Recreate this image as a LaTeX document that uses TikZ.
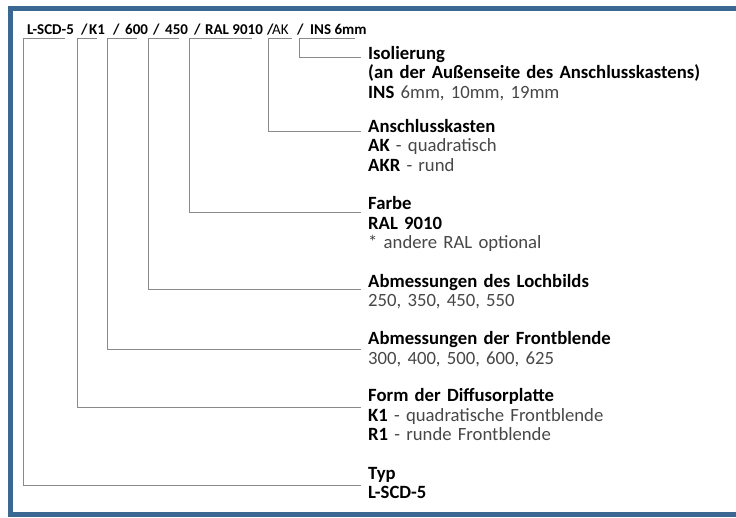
\documentclass[tikz,border=0pt]{standalone}
\usepackage{fontspec}
\setmainfont{Carlito}
\definecolor{framecol}{HTML}{3B6892}
\definecolor{conncol}{HTML}{8A8A8A}
\definecolor{desccol}{HTML}{474747}
\newcommand{\dsc}[1]{\textcolor{desccol}{\mdseries #1}}
\begin{document}
\begin{tikzpicture}[x=1pt,y=-1pt,
  conn/.style={draw=conncol, line width=1pt},
  hdr/.style={font=\fontsize{15}{17}\selectfont\bfseries, inner sep=0pt, anchor=base west},
  hdrn/.style={font=\fontsize{15}{17}\selectfont, inner sep=0pt, anchor=base west},
  info/.style={font=\fontsize{18.7}{19.6}\selectfont, inner sep=0pt, anchor=base west, align=left, text width=360pt},
]
\useasboundingbox (0,0) rectangle (736,517);
\fill[white] (0,0) rectangle (736,517);
\draw[framecol, line width=5pt] (745,8.5) -- (10.5,8.5) -- (10.5,514.5) -- (745,514.5);

% header
\node[hdr] (h1) at (27,34.5) {L-SCD-5};
\node[hdr] (s1) at (81,34.5) {/};
\node[hdr] (h2) at (89,34.5) {K1};
\node[hdr] (s2) at (113,34.5) {/};
\node[hdr] (h3) at (125,34.5) {600};
\node[hdr] (s3) at (153,34.5) {/};
\node[hdr] (h4) at (165,34.5) {450};
\node[hdr] (s4) at (194,34.5) {/};
\node[hdr] (h5) at (205,34.5) {RAL 9010};
\node[hdr] (s5) at (267,34.5) {/};
\node[hdrn] (h6) at (272,34.5) {AK};
\node[hdr] (s6) at (297,34.5) {/};
\node[hdr] (h7) at (310,34.5) {INS 6mm};

% info blocks
\node[info] (i7) at (368,59.3) {\textbf{Isolierung}\\\textbf{(an der Außenseite des Anschlusskastens)}\\\textbf{INS} \dsc{6mm, 10mm, 19mm}};
\node[info] (i6) at (368,132.3) {\textbf{Anschlusskasten}\\\textbf{AK} \dsc{- quadratisch}\\\textbf{AKR} \dsc{- rund}};
\node[info] (i5) at (368,209.5) {\textbf{Farbe}\\\textbf{RAL 9010}\\\dsc{* andere RAL optional}};
\node[info] (i4) at (368,287) {\textbf{Abmessungen des Lochbilds}\\\dsc{250, 350, 450, 550}};
\node[info] (i3) at (368,344.5) {\textbf{Abmessungen der Frontblende}\\\dsc{300, 400, 500, 600, 625}};
\node[info] (i2) at (368,401.7) {\textbf{Form der Diffusorplatte}\\\textbf{K1} \dsc{- quadratische Frontblende}\\\textbf{R1} \dsc{- runde Frontblende}};
\node[info] (i1) at (368,479.3) {\textbf{Typ}\\\textbf{L-SCD-5}};

% connector coordinates
\coordinate (t1) at (65,38);  \coordinate (c1) at (23,38);  \coordinate (e1) at (361,485);
\coordinate (t2) at (97,38);  \coordinate (c2) at (77,38);  \coordinate (e2) at (361,407);
\coordinate (t3) at (137,38); \coordinate (c3) at (107,38); \coordinate (e3) at (361,349);
\coordinate (t4) at (179,38); \coordinate (c4) at (148,38); \coordinate (e4) at (361,289);
\coordinate (t5) at (252,38); \coordinate (c5) at (189,38); \coordinate (e5) at (361,212);
\coordinate (t6) at (292,38); \coordinate (c6) at (268,38); \coordinate (e6) at (361,131);
\coordinate (t7) at (355,38); \coordinate (c7) at (299,38); \coordinate (e7) at (361,57);

\foreach \i in {1,...,7} {
  \draw[conn] (t\i) -- (c\i) |- (e\i);
}
\end{tikzpicture}
\end{document}
